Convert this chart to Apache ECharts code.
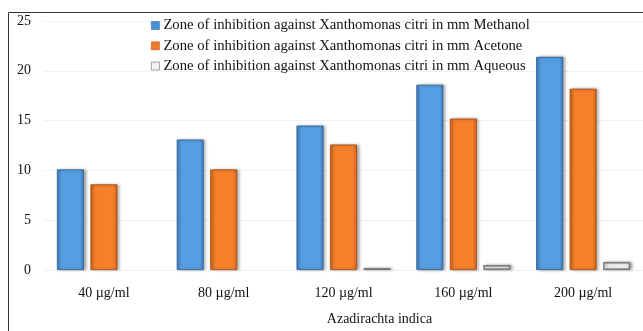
<!DOCTYPE html>
<html>
<head>
<meta charset="utf-8">
<script src="https://cdn.jsdelivr.net/npm/echarts@6/dist/echarts.min.js"></script>
<style>html,body{margin:0;padding:0;background:#fff;}#c{width:643px;height:331px;}</style>
</head>
<body>
<div id="c"></div>
<script>
var categories = ['40 µg/ml', '80 µg/ml', '120 µg/ml', '160 µg/ml', '200 µg/ml'];
var methanol = [10.1, 13.1, 14.5, 18.6, 21.4];
var acetone = [8.6, 10.1, 12.6, 15.2, 18.2];
var aqueous = [0, 0, 0.2, 0.5, 0.8];
var seriesNames = [
  'Zone of inhibition against Xanthomonas citri in mm Methanol',
  'Zone of inhibition against Xanthomonas citri in mm Acetone',
  'Zone of inhibition against Xanthomonas citri in mm Aqueous'
];
var xAxisName = 'Azadirachta indica';

var FONT = '"Liberation Serif", "Times New Roman", serif';
function grad(edge, mid) {
  return new echarts.graphic.LinearGradient(0, 0, 1, 0, [
    {offset: 0, color: edge}, {offset: 0.15, color: mid},
    {offset: 0.85, color: mid}, {offset: 1, color: edge}
  ]);
}
function hideZero(arr) {
  return arr.map(function (v) {
    return v === 0 ? {value: v, itemStyle: {borderWidth: 0, shadowBlur: 0, opacity: 0}} : v;
  });
}
var chart = echarts.init(document.getElementById('c'), null, {renderer: 'canvas'});
var shadow = {shadowBlur: 3, shadowColor: 'rgba(0,0,0,0.35)', shadowOffsetX: 2, shadowOffsetY: 0};
chart.setOption({
  animation: false,
  graphic: [{
    type: 'rect', shape: {x: 8.5, y: 12.5, width: 800, height: 500},
    style: {fill: 'none', stroke: '#333', lineWidth: 1}, z: 100, silent: true
  }],
  legend: {
    orient: 'vertical', left: 146, top: 13, itemWidth: 8, itemHeight: 8, itemGap: 5.3,
    textStyle: {fontFamily: FONT, fontSize: 14.7, color: '#111', lineHeight: 14.7, padding: [0,0,0,-1]},
    data: [
      {name: seriesNames[0], icon: 'rect', itemStyle: {color: '#4a90d6', borderColor: '#2f6aa8', borderWidth: 0.6}},
      {name: seriesNames[1], icon: 'rect', itemStyle: {color: '#f07a26', borderColor: '#b8561a', borderWidth: 0.6}},
      {name: seriesNames[2], icon: 'rect', itemStyle: {color: '#f4f4f4', borderColor: '#8a8a8a', borderWidth: 0.8}}
    ]
  },
  grid: {left: 44, top: 21, width: 606, height: 256.5},
  xAxis: {
    type: 'category', data: categories,
    axisLine: {show: true, lineStyle: {color: '#f0f0f0', width: 1}},
    axisTick: {show: false},
    axisLabel: {fontFamily: FONT, fontSize: 14, color: '#111', margin: 16.5},
    name: xAxisName, nameLocation: 'middle', nameGap: 42,
    nameTextStyle: {fontFamily: FONT, fontSize: 14, color: '#111', padding: [0, 0, 0, 72]}
  },
  yAxis: {
    type: 'value', min: 0, max: 25, interval: 5,
    axisLine: {show: false}, axisTick: {show: false},
    axisLabel: {fontFamily: FONT, fontSize: 14, color: '#111', margin: 13},
    splitLine: {lineStyle: {color: '#f1f1f1', width: 1}}
  },
  series: [
    {name: seriesNames[0], type: 'bar', data: methanol, barWidth: 27, barGap: '24%',
     itemStyle: Object.assign({color: grad('#3d7cc0', '#559ee2'), borderColor: '#2e5f94', borderWidth: 0.8}, shadow)},
    {name: seriesNames[1], type: 'bar', data: acetone, barWidth: 27, barGap: '24%',
     itemStyle: Object.assign({color: grad('#cf621b', '#f57f2a'), borderColor: '#a44d12', borderWidth: 0.8}, shadow)},
    {name: seriesNames[2], type: 'bar', data: hideZero(aqueous), barWidth: 27, barGap: '24%',
     itemStyle: Object.assign({color: '#f6f6f6', borderColor: '#7a7a7a', borderWidth: 1.5}, shadow)}
  ]
});
</script>
</body>
</html>
